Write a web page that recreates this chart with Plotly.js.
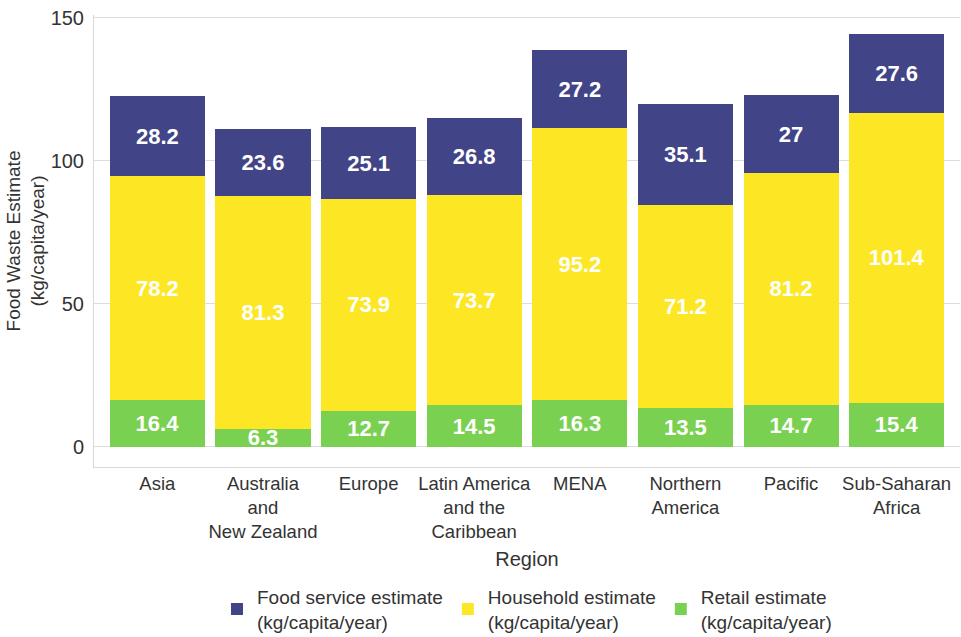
<!DOCTYPE html>
<html>
<head>
<meta charset="utf-8">
<script src="https://cdn.plot.ly/plotly-3.0.1.min.js"></script>
<style>
  html, body { margin: 0; padding: 0; background: #fff; }
  #chart { width: 961px; height: 637px; }
</style>
</head>
<body>
<div id="chart"></div>
<script>
const regions = [
  "Asia",
  "Australia<br>and<br>New Zealand",
  "Europe",
  "Latin America<br>and the<br>Caribbean",
  "MENA",
  "Northern<br>America",
  "Pacific",
  "Sub-Saharan<br>Africa"
];
const retail = [16.4, 6.3, 12.7, 14.5, 16.3, 13.5, 14.7, 15.4];
const household = [78.2, 81.3, 73.9, 73.7, 95.2, 71.2, 81.2, 101.4];
const foodService = [28.2, 23.6, 25.1, 26.8, 27.2, 35.1, 27, 27.6];

const seriesNames = [
  "Retail estimate<br>(kg/capita/year)",
  "Household estimate<br>(kg/capita/year)",
  "Food service estimate<br>(kg/capita/year)"
];
const colors = ["#7AD151", "#FDE725", "#414487"];

const FONT = "Liberation Sans, Arial, sans-serif";

function barTrace(vals, name, color) {
  return {
    type: "bar",
    x: regions,
    y: vals,
    name: name,
    marker: { color: color, line: { width: 0 } },
    text: vals.map(v => String(v)),
    textposition: "inside",
    insidetextanchor: "middle",
    textangle: 0,
    constraintext: "none",
    cliponaxis: false,
    textfont: { family: FONT, size: 22, color: "#ffffff", weight: "bold" },
    hoverinfo: "y+name"
  };
}

const data = [
  barTrace(retail, seriesNames[0], colors[0]),
  barTrace(household, seriesNames[1], colors[1]),
  barTrace(foodService, seriesNames[2], colors[2])
];

const layout = {
  width: 961,
  height: 637,
  barmode: "stack",
  bargap: 0.1,
  paper_bgcolor: "#ffffff",
  plot_bgcolor: "#ffffff",
  font: { family: FONT, size: 19, color: "#333333" },
  margin: { l: 94, r: 1, t: 15, b: 170, autoexpand: false },
  uniformtext: { mode: "show", minsize: 22 },
  xaxis: {
    type: "category",
    range: [-0.6, 7.6],
    showgrid: false,
    zeroline: false,
    showline: true,
    linecolor: "#d9d9d9",
    linewidth: 1,
    ticks: "",
    ticklabelstandoff: 0,
    automargin: false,
    tickfont: { family: FONT, size: 18.5, color: "#333333" },
    title: { text: "Region", font: { family: FONT, size: 20, color: "#333333" }, standoff: 10 },
    fixedrange: true
  },
  yaxis: {
    range: [-7, 151],
    tickvals: [0, 50, 100, 150],
    showgrid: true,
    gridcolor: "#dcdcdc",
    gridwidth: 1,
    zeroline: false,
    showline: true,
    linecolor: "#d9d9d9",
    linewidth: 1,
    ticks: "",
    ticklabelstandoff: 5,
    automargin: false,
    tickfont: { family: FONT, size: 20, color: "#333333" },
    title: { text: "Food Waste Estimate<br>(kg/capita/year)", font: { family: FONT, size: 19, color: "#333333" }, standoff: 0 },
    fixedrange: true
  },
  showlegend: true,
  legend: {
    orientation: "h",
    traceorder: "reversed",
    x: 0.5,
    xanchor: "center",
    y: -0.245,
    yanchor: "top",
    font: { family: FONT, size: 19, color: "#333333" },
    itemwidth: 30,
    tracegroupgap: 0
  }
};

Plotly.newPlot("chart", data, layout, { displayModeBar: false, staticPlot: true });
</script>
</body>
</html>
